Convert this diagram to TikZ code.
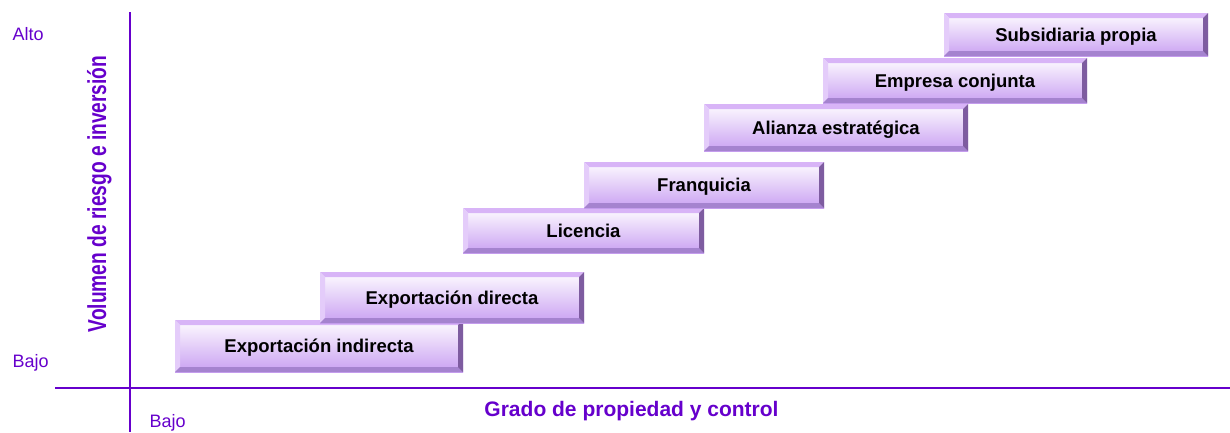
\documentclass[tikz,border=0pt]{standalone}
\usepackage{fontspec}
\setmainfont{Liberation Sans}
\usepackage{tikz}

\definecolor{axispurple}{RGB}{102,0,204}
\definecolor{facetop}{RGB}{254,252,255}
\definecolor{facebottom}{RGB}{201,160,242}
\definecolor{bevtop}{RGB}{216,180,247}
\definecolor{bevleft}{RGB}{228,204,250}
\definecolor{bevright}{RGB}{126,92,160}
\definecolor{bevbottom}{RGB}{165,131,207}

\tikzset{
  stepbox/.style={rectangle, inner sep=0pt, text=black, text depth=0pt,
    font=\bfseries\fontsize{18.5}{20}\selectfont,
    top color=facetop, bottom color=facebottom,
    path picture={
      \fill[bevtop] (path picture bounding box.north west) -- (path picture bounding box.north east)
        -- ([shift={(-5pt,-5pt)}]path picture bounding box.north east) -- ([shift={(5pt,-5pt)}]path picture bounding box.north west) -- cycle;
      \fill[bevleft] (path picture bounding box.north west) -- ([shift={(5pt,-5pt)}]path picture bounding box.north west)
        -- ([shift={(5pt,5pt)}]path picture bounding box.south west) -- (path picture bounding box.south west) -- cycle;
      \fill[bevbottom] (path picture bounding box.south west) -- (path picture bounding box.south east)
        -- ([shift={(-5pt,5pt)}]path picture bounding box.south east) -- ([shift={(5pt,5pt)}]path picture bounding box.south west) -- cycle;
      \fill[bevright] (path picture bounding box.north east) -- ([shift={(-5pt,-5pt)}]path picture bounding box.north east)
        -- ([shift={(-5pt,5pt)}]path picture bounding box.south east) -- (path picture bounding box.south east) -- cycle;
    }},
  axisline/.style={draw=axispurple, line width=2pt},
  scalelabel/.style={text=axispurple, inner sep=0pt, font=\fontsize{18}{20}\selectfont},
  axislabel/.style={text=axispurple, inner sep=0pt, font=\bfseries\fontsize{21}{24}\selectfont}
}

\begin{document}
\begin{tikzpicture}[x=1pt,y=-1pt]
    \useasboundingbox (0,0) rectangle (1230,432);

    %Axis end points
    \coordinate (ytop) at (130,12);
    \coordinate (ybot) at (130,432);
    \coordinate (xleft) at (55,388);
    \coordinate (xright) at (1230,388);

    %Straight Lines: axes
    \draw [axisline] (ytop) -- (ybot) ;
    \draw [axisline] (xleft) -- (xright) ;

    %Shape: Step boxes
    \draw (319,346) node (expind) [stepbox, minimum width=288, minimum height=52] {Exportación indirecta};
    \draw (452,297.5) node (expdir) [stepbox, minimum width=264, minimum height=51] {Exportación directa};
    \draw (583.5,230.5) node (licencia) [stepbox, minimum width=241, minimum height=45] {Licencia};
    \draw (704,185) node (franquicia) [stepbox, minimum width=240, minimum height=46] {Franquicia};
    \draw (836,127.5) node (alianza) [stepbox, minimum width=264, minimum height=47] {Alianza estratégica};
    \draw (955,80.5) node (empresa) [stepbox, minimum width=264, minimum height=45] {Empresa conjunta};
    \draw (1076,34.5) node (subsidiaria) [stepbox, minimum width=264, minimum height=43] {Subsidiaria propia};

    % Text Node
    \draw (12.5,40) node (alto) [scalelabel, anchor=base west] {Alto};
    % Text Node
    \draw (12.5,367) node (bajoy) [scalelabel, anchor=base west] {Bajo};
    % Text Node
    \draw (149.5,427) node (bajox) [scalelabel, anchor=base west] {Bajo};
    % Text Node
    \draw (631.5,416.5) node (gradolabel) [axislabel, anchor=base] {Grado de propiedad y control};
    % Text Node
    \draw (106,194) node (volumenlabel) [axislabel, anchor=base, rotate=90, font=\bfseries\fontsize{26}{28}\selectfont] {\scalebox{0.737}[1]{Volumen de riesgo e inversión}};

\end{tikzpicture}
\end{document}
